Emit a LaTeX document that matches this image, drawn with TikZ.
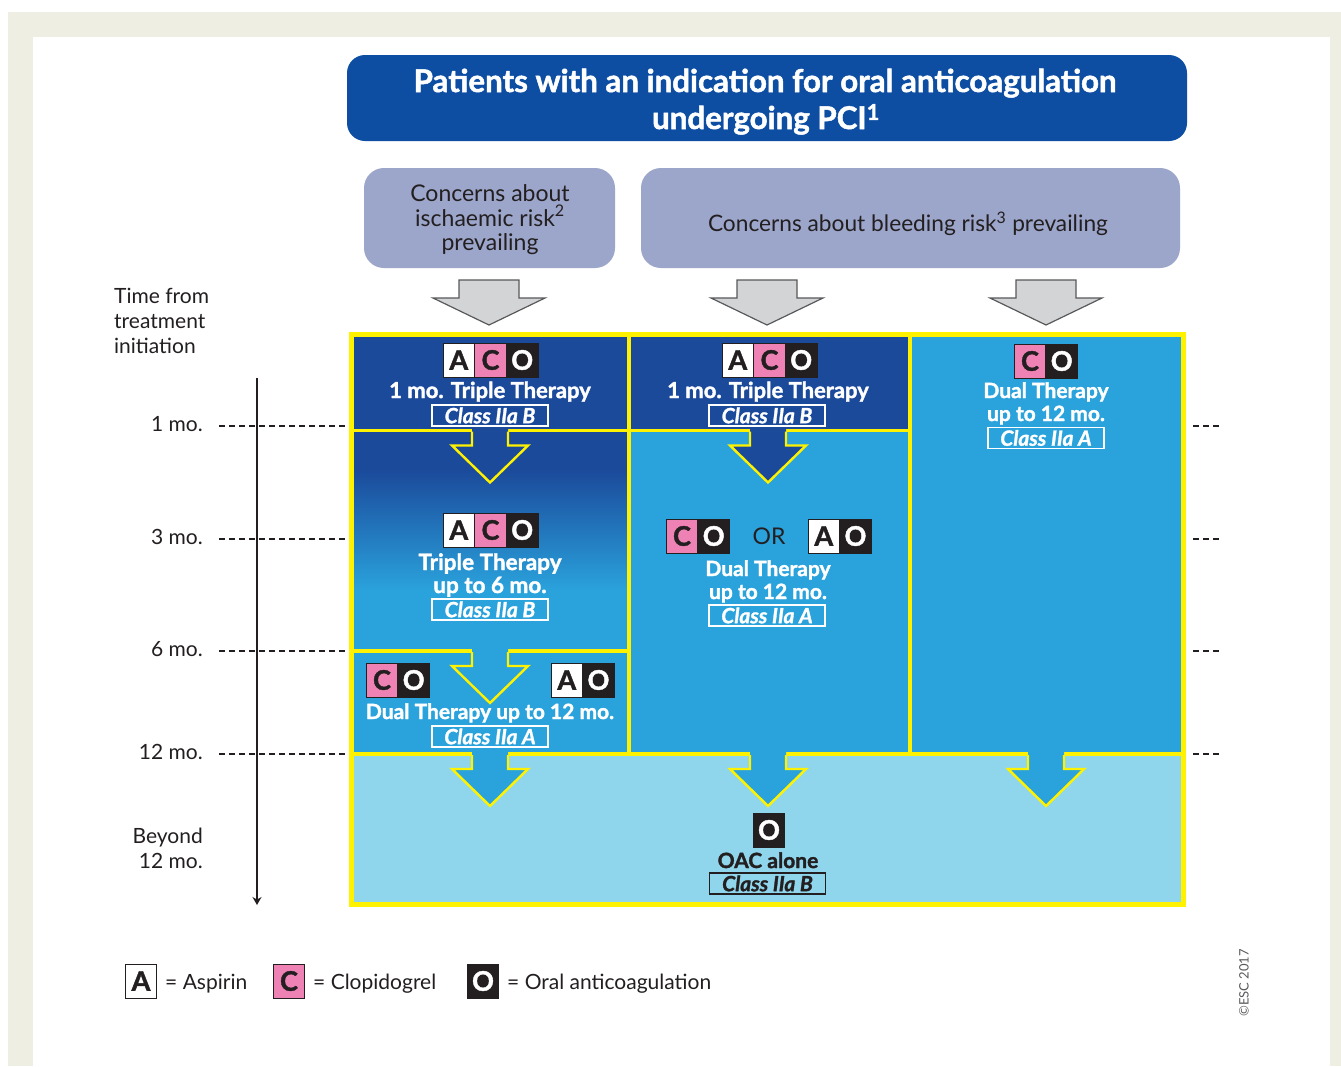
\documentclass[tikz,border=0pt]{standalone}
\usepackage{fontspec}
\setmainfont{Lato}[BoldFeatures={FakeBold=1.6},BoldItalicFeatures={FakeBold=1.4}]
\usetikzlibrary{arrows.meta}
\definecolor{beige}{HTML}{EEEEE2}
\definecolor{hdrblue}{HTML}{0D4EA3}
\definecolor{lav}{HTML}{9CA5CA}
\definecolor{dkblue}{HTML}{1B4A9B}
\definecolor{midblue}{HTML}{2AA2DC}
\definecolor{ltblue}{HTML}{8FD6EC}
\definecolor{ylw}{HTML}{FFF200}
\definecolor{pinkc}{HTML}{EE82B5}
\definecolor{ink}{HTML}{231F20}
\definecolor{grayarr}{HTML}{D3D4D6}
\definecolor{grayedge}{HTML}{58595B}
\newcommand\fsz[2]{\fontsize{#1}{#2}\selectfont}
% yellow-outlined block arrow: centre x, top y, fill colour
\newcommand\ylwarrow[3]{%
  \fill[#3] ({#1-18},{#2-3}) -- ({#1+18},{#2-3}) -- ({#1+18},{#2+15}) -- ({#1+38},{#2+15}) -- (#1,{#2+52}) -- ({#1-38},{#2+15}) -- ({#1-18},{#2+15}) -- cycle;
  \draw[ylw, line width=2.4pt, line join=miter] ({#1-18},{#2+1}) -- ({#1-18},{#2+15}) -- ({#1-38},{#2+15}) -- (#1,{#2+52}) -- ({#1+38},{#2+15}) -- ({#1+18},{#2+15}) -- ({#1+18},{#2+1});}
% grey block arrow: centre x
\newcommand\grayarrow[1]{%
  \draw[fill=grayarr, draw=grayedge, line width=1.2pt, line join=miter] ({#1-30},280) -- ({#1+30},280) -- ({#1+30},298) -- ({#1+56},298) -- (#1,325) -- ({#1-56},298) -- ({#1-30},298) -- cycle;}
\begin{document}
\begin{tikzpicture}[x=1pt,y=-1pt,
  lbl/.style={inner sep=0pt, anchor=base},
  wt/.style={lbl, text=white, font=\bfseries\fsz{21}{26}},
  tl/.style={lbl, text=ink, font=\fsz{21}{25}},
  cls/.style={draw=white, line width=1.3pt, minimum width=116pt, minimum height=21pt, inner sep=0pt, text=white, font=\bfseries\itshape\fsz{21}{22}},
  badge/.style={minimum width=31.7pt, minimum height=34pt, inner sep=0pt, draw=ink, line width=0.8pt, font=\bfseries\fsz{27}{27}},
  bA/.style={badge, fill=white, text=ink},
  bC/.style={badge, fill=pinkc, text=ink},
  bO/.style={badge, fill=ink, text=white},
  dashln/.style={ink, line width=1.6pt, dash pattern=on 6pt off 4pt}]
\useasboundingbox (0,0) rectangle (1341,1066);
\fill[beige] (8,12) rectangle (1341,1066);
\fill[white] (33,37) rectangle (1330,1066);

% header
\node[fill=hdrblue, rounded corners=18pt, minimum width=840pt, minimum height=86pt] (hdr) at (767,98) {};
\node[lbl, text=white, font=\bfseries\fsz{31.3}{37}] (hdr1) at (765,92) {Patients with an indication for oral anticoagulation};
\node[lbl, text=white, font=\bfseries\fsz{31.3}{37}] (hdr2) at (766,129) {undergoing PCI\textsuperscript{1}};
\node[fill=lav, rounded corners=20pt, minimum width=251pt, minimum height=100pt] (isch) at (489.5,218) {};
\node[lbl, text=ink, font=\fsz{23}{25.5}] (is1) at (490,201) {Concerns about};
\node[lbl, text=ink, font=\fsz{23}{25.5}] (is2) at (490,226) {ischaemic risk\textsuperscript{2}};
\node[lbl, text=ink, font=\fsz{23}{25.5}] (is3) at (490,250) {prevailing};
\node[fill=lav, rounded corners=20pt, minimum width=539pt, minimum height=100pt] (bleed) at (910.5,218) {};
\node[lbl, text=ink, font=\fsz{22.7}{25.5}] (bl1) at (908,231) {Concerns about bleeding risk\textsuperscript{3} prevailing};

\grayarrow{489}
\grayarrow{767}
\grayarrow{1046}

% cells
\fill[dkblue] (351,332) rectangle (628,431);
\fill[dkblue] (351,431) rectangle (628,470);
\shade[top color=dkblue, bottom color=midblue] (351,470) rectangle (628,590);
\fill[midblue] (351,590) rectangle (628,754);
\fill[dkblue] (628,332) rectangle (909,431);
\fill[midblue] (628,431) rectangle (909,754);
\fill[midblue] (909,332) rectangle (1185,754);
\fill[ltblue] (351,754) rectangle (1185,905);

% yellow lines
\draw[ylw, line width=3.5pt] (351,430.5) -- (909,430.5);
\draw[ylw, line width=3.5pt] (351,651) -- (628,651);
\draw[ylw, line width=3.5pt] (351,754) -- (1185,754);
\draw[ylw, line width=4pt] (628.5,332) -- (628.5,754);
\draw[ylw, line width=4pt] (909.5,332) -- (909.5,754);

\ylwarrow{490}{430.5}{dkblue}
\ylwarrow{768}{430.5}{dkblue}
\ylwarrow{490}{651}{midblue}
\ylwarrow{490}{754}{midblue}
\ylwarrow{768}{754}{midblue}
\ylwarrow{1046}{754}{midblue}

\draw[ylw, line width=4.5pt] (351.5,334.5) rectangle (1183.5,904.5);

% timeline
\node[tl, anchor=base west] (t1) at (114,303) {Time from};
\node[tl, anchor=base west] (t2) at (114,328) {treatment};
\node[tl, anchor=base west] (t3) at (114,353) {initiation};
\coordinate (tlstart) at (257,378);
\coordinate (tlend) at (257,905);
\draw[ink, line width=1.2pt, -{Stealth[length=8pt,width=9pt]}] (tlstart) -- (tlend);

\node[tl, anchor=base east] (m1) at (203,431) {1 mo.};
\node[tl, anchor=base east] (m3) at (203,544) {3 mo.};
\node[tl, anchor=base east] (m6) at (203,656) {6 mo.};
\node[tl, anchor=base east] (m12) at (203,759) {12 mo.};
\node[tl, anchor=base east] (by1) at (203,843) {Beyond};
\node[tl, anchor=base east] (by2) at (203,868) {12 mo.};

\foreach \yy/\nm in {426/a,539/b,651/c,754/d}{
  \coordinate (dl\nm) at (219,\yy);
  \coordinate (dr\nm) at (347,\yy);
  \draw[dashln] (dl\nm) -- (dr\nm);
  \coordinate (el\nm) at (1193,\yy);
  \coordinate (er\nm) at (1219,\yy);
  \draw[dashln] (el\nm) -- (er\nm);
}

% column 1 top
\node[bA] (a1) at (458.8,360) {A};
\node[bC] (c1) at (490.5,360) {C};
\node[bO] (o1) at (522.2,360) {O};
\node[wt, font=\bfseries\fsz{22}{26}] (tx1) at (490,398) {1 mo. Triple Therapy};
\node[cls] (cl1) at (490,415.5) {Class IIa B};

% column 2 top
\node[bA] (a2) at (737.8,360) {A};
\node[bC] (c2) at (769.5,360) {C};
\node[bO] (o2) at (801.2,360) {O};
\node[wt, font=\bfseries\fsz{22}{26}] (tx2) at (768,398) {1 mo. Triple Therapy};
\node[cls] (cl2) at (767,415.5) {Class IIa B};

% column 3
\node[bC] (c3) at (1030,361) {C};
\node[bO] (o3) at (1061.7,361) {O};
\node[wt] (tx3a) at (1046,398) {Dual Therapy};
\node[wt] (tx3b) at (1046,421) {up to 12 mo.};
\node[cls] (cl3) at (1046,438) {Class IIa A};

% column 1 middle
\node[bA] (a4) at (458.8,530) {A};
\node[bC] (c4) at (490.5,530) {C};
\node[bO] (o4) at (522.2,530) {O};
\node[wt, font=\bfseries\fsz{22.5}{26}] (tx4a) at (490,570) {Triple Therapy};
\node[wt, font=\bfseries\fsz{22.5}{26}] (tx4b) at (490,593) {up to 6 mo.};
\node[cls] (cl4) at (490,609.5) {Class IIa B};

% column 1 lower
\node[bC] (c5) at (382,680) {C};
\node[bO] (o5) at (413.7,680) {O};
\node[bA] (a6) at (566.8,680) {A};
\node[bO] (o6) at (598.5,680) {O};
\node[wt] (tx5) at (490,719) {Dual Therapy up to 12 mo.};
\node[cls] (cl5) at (490,736.5) {Class IIa A};

% column 2 middle
\node[bC] (c7) at (682,536) {C};
\node[bO] (o7) at (713.7,536) {O};
\node[lbl, text=ink, font=\fsz{23}{25}] (or) at (769,544) {OR};
\node[bA] (a8) at (823.8,536) {A};
\node[bO] (o8) at (855.5,536) {O};
\node[wt] (tx7a) at (768,576) {Dual Therapy};
\node[wt] (tx7b) at (768,599) {up to 12 mo.};
\node[cls] (cl7) at (767,615.5) {Class IIa A};

% bottom
\node[bO] (o9) at (769,830) {O};
\node[wt, text=ink] (tx9) at (768,868) {OAC alone};
\node[cls, draw=ink, text=ink] (cl9) at (767.5,883.5) {Class IIa B};

% legend
\node[bA] (la) at (141,981) {A};
\node[tl, anchor=base west, font=\fsz{21}{26}] (lta) at (165,989) {= Aspirin};
\node[bC] (lc) at (289,981) {C};
\node[tl, anchor=base west, font=\fsz{21}{26}] (ltc) at (313,989) {= Clopidogrel};
\node[bO] (lo) at (483,981) {O};
\node[tl, anchor=base west, font=\fsz{21}{26}] (lto) at (507,989) {= Oral anticoagulation};

\node[rotate=90, text=grayedge, font=\fsz{13}{15}, inner sep=0pt] (copy) at (1244,983) {©ESC 2017};
\end{tikzpicture}
\end{document}
